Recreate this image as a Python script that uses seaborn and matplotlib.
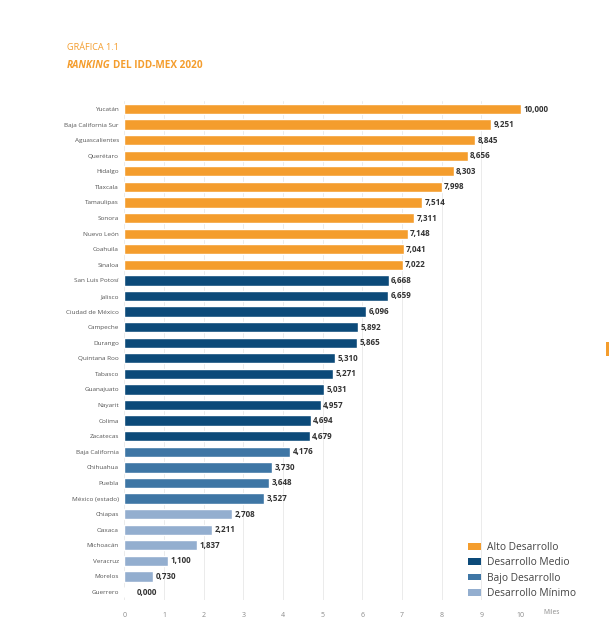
import matplotlib
matplotlib.use("Agg")
import matplotlib.pyplot as plt
import seaborn as sns
import pandas as pd
from matplotlib.patches import Patch, Rectangle

estados = ["Yucatán", "Baja California Sur", "Aguascalientes", "Querétaro", "Hidalgo",
           "Tlaxcala", "Tamaulipas", "Sonora", "Nuevo León", "Coahuila", "Sinaloa",
           "San Luis Potosí", "Jalisco", "Ciudad de México", "Campeche", "Durango",
           "Quintana Roo", "Tabasco", "Guanajuato", "Nayarit", "Colima", "Zacatecas",
           "Baja California", "Chihuahua", "Puebla", "México (estado)",
           "Chiapas", "Oaxaca", "Michoacán", "Veracruz", "Morelos", "Guerrero"]
valores = [10.000, 9.251, 8.845, 8.656, 8.303, 7.998, 7.514, 7.311, 7.148, 7.041, 7.022,
           6.668, 6.659, 6.096, 5.892, 5.865, 5.310, 5.271, 5.031, 4.957, 4.694, 4.679,
           4.176, 3.730, 3.648, 3.527,
           2.708, 2.211, 1.837, 1.100, 0.730, 0.000]
grupos_nombres = ["Alto Desarrollo", "Desarrollo Medio", "Bajo Desarrollo", "Desarrollo Mínimo"]
grupos_conteo = [11, 11, 4, 6]
colores = ["#F49D2D", "#0C4A79", "#3E76A5", "#93AECF"]
xticks = [0, 1, 2, 3, 4, 5, 6, 7, 8, 9, 10]

grupo = []
for g, n in zip(grupos_nombres, grupos_conteo):
    grupo += [g] * n
df = pd.DataFrame({"estado": estados, "valor": valores, "grupo": grupo})

sns.set_theme(style="white")
plt.rcParams["font.family"] = ["Open Sans", "DejaVu Sans"]

fig = plt.figure(figsize=(6.10, 6.31), dpi=100)
ax = fig.add_axes([0.204, 0.0494, 0.650, 0.7902])

sns.barplot(data=df, x="valor", y="estado", hue="grupo", hue_order=grupos_nombres,
            palette=colores, dodge=False, width=0.66, orient="h", ax=ax, legend=False,
            saturation=1, zorder=2)

ax.set_xlim(0, 10)
ax.set_ylim(len(estados) - 0.5, -0.5)
ax.set_xticks(xticks)
ax.set_xticklabels([str(t) for t in xticks], fontsize=5.0, color="#8a8a8a")
ax.tick_params(axis="x", length=0, pad=9)
ax.tick_params(axis="y", length=0, pad=4)
ax.set_yticklabels(estados, fontsize=4.6, color="#555555")
ax.set_xlabel("")
ax.set_ylabel("")
for s in ax.spines.values():
    s.set_visible(False)
ax.grid(axis="x", color="#EBEBEB", linewidth=0.7, zorder=0)
ax.set_axisbelow(True)

for i, v in enumerate(valores):
    txt = f"{v:,.3f}".replace(".", ",")
    xpos = v + 0.06 if v > 0 else 0.32
    ax.text(xpos, i, txt, va="center", ha="left", fontsize=5.8, fontweight="bold",
            color="#333333", clip_on=False)

fig.text(543 / 610, 1 - 613 / 631, "Miles", fontsize=4.8, color="#8a8a8a",
         ha="left", va="center")

handles = [Patch(facecolor=c, edgecolor="none") for c in colores]
leg = ax.legend(handles, grupos_nombres, loc="lower left", bbox_to_anchor=(0.857, -0.007),
                frameon=False, fontsize=7.4, handlelength=1.25, handleheight=0.6,
                labelspacing=0.43, handletextpad=0.55, borderaxespad=0)
for t in leg.get_texts():
    t.set_color("#444444")

fig.text(67 / 610, 1 - 48 / 631, "GRÁFICA 1.1", fontsize=6.6, color="#F49D2D", va="center")
t1 = fig.text(67 / 610, 1 - 65 / 631, "RANKING", fontsize=7.2, color="#F49D2D",
              fontweight="bold", fontstyle="italic", va="center")
fig.canvas.draw()
bb = t1.get_window_extent()
fig.text(bb.x1 / fig.bbox.width + 0.004, 1 - 65 / 631, "DEL IDD-MEX 2020", fontsize=7.2,
         color="#F49D2D", fontweight="bold", va="center")

fig.patches.append(Rectangle((606 / 610, 1 - 356 / 631), 3 / 610, 14 / 631,
                             transform=fig.transFigure, facecolor="#F49D2D",
                             edgecolor="none"))

fig.savefig("out.png", dpi=100)
